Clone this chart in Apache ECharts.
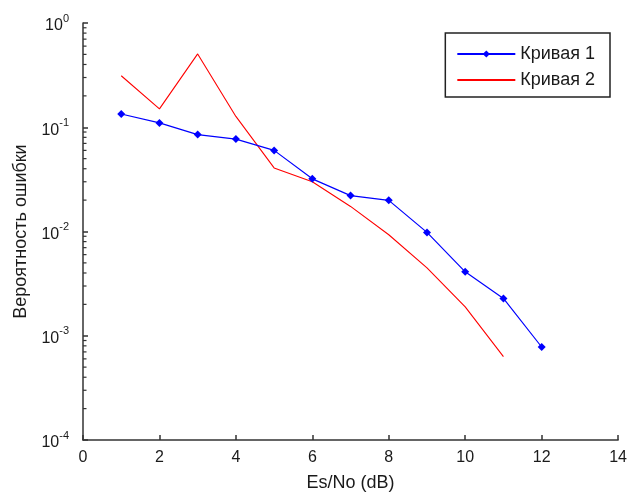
<!DOCTYPE html>
<html><head><meta charset="utf-8">
<script src="https://cdn.jsdelivr.net/npm/echarts@6/dist/echarts.min.js"></script>
<style>html,body{margin:0;padding:0;background:#fff}#c{width:630px;height:497px}</style>
</head><body><div id="c"></div>
<script>
var xValues = [1,2,3,4,5,6,7,8,9,10,11,12];
var curve1 = [0.134,0.110,0.085,0.077,0.060,0.032,0.0221,0.0199,0.0098,0.0041,0.00228,0.00078];
var xValues2 = [1,2,3,4,5,6,7,8,9,10,11];
var curve2 = [0.312,0.150,0.505,0.127,0.0407,0.030,0.0174,0.0093,0.00448,0.00189,0.00063];
var seriesNames = ['Кривая 1','Кривая 2'];
var xTicks = [0,2,4,6,8,10,12,14];
var yMinorTicks = [];
for (var e=-4; e<0; e++) for (var m=2; m<=9; m++) yMinorTicks.push(m*Math.pow(10,e));

var font = '"Liberation Sans", Arial, sans-serif';
var txt = '#1a1a1a';
var chart = echarts.init(document.getElementById('c'));
chart.setOption({
  animation:false,
  grid:{left:83,right:11,top:23,bottom:56},
  legend:{
    orient:'vertical', right:20, top:33,
    padding:[12,15,8,11],
    borderColor:'#222', borderWidth:1.5,
    itemWidth:58, itemHeight:9, itemGap:8,
    textStyle:{fontFamily:font,fontSize:18,color:txt},
    data:[{name:seriesNames[0]},{name:seriesNames[1],itemStyle:{opacity:0}}]
  },
  xAxis:{
    type:'value',min:0,max:14,interval:2,
    name:'Es/No (dB)',nameLocation:'middle',nameGap:34,
    nameTextStyle:{fontFamily:font,fontSize:18,color:txt},
    axisLine:{lineStyle:{color:'#333',width:1.5}},
    axisTick:{inside:true,length:5,lineStyle:{color:'#333',width:1.5}},
    axisLabel:{fontFamily:font,fontSize:16,color:txt,margin:10},
    splitLine:{show:false}
  },
  yAxis:{
    type:'log',logBase:10,min:0.0001,max:1,
    name:'Вероятность ошибки',nameLocation:'middle',nameGap:51,
    nameTextStyle:{fontFamily:font,fontSize:18,color:txt},
    axisLine:{show:true,lineStyle:{color:'#333',width:1.5}},
    axisTick:{inside:true,length:5,lineStyle:{color:'#333',width:1.5}},
    axisLabel:{margin:14,
      formatter:function(v){var p=Math.round(Math.log10(v));return '{b|10}{s|'+p+'}';},
      rich:{
        b:{fontFamily:font,fontSize:16,color:txt,padding:[6,0,0,0]},
        s:{fontFamily:font,fontSize:11,color:txt,padding:[0,0,9,0]}
      }},
    splitLine:{show:false}
  },
  series:[
    {name:seriesNames[0],type:'line',data:xValues.map(function(x,i){return [x,curve1[i]];}),
     color:'#0000ff',lineStyle:{width:1.2,color:'#0000ff'},symbol:'diamond',symbolSize:8,
     itemStyle:{color:'#0000ff'},z:3},
    {name:seriesNames[1],type:'line',data:xValues2.map(function(x,i){return [x,curve2[i]];}),
     color:'#ff0000',lineStyle:{width:1.1,color:'#ff0000'},symbol:'none',z:2},
    {type:'custom',silent:true,z:10,clip:false,
     encode:{x:0,y:1},
     data:yMinorTicks.map(function(v){return [0,v];}),
     renderItem:function(params,api){
       var p=api.coord([api.value(0),api.value(1)]);
       return {type:'line',shape:{x1:p[0],y1:p[1],x2:p[0]+3.5,y2:p[1]},style:{stroke:'#333',lineWidth:1.2}};
     }}
  ]
});
</script></body></html>
